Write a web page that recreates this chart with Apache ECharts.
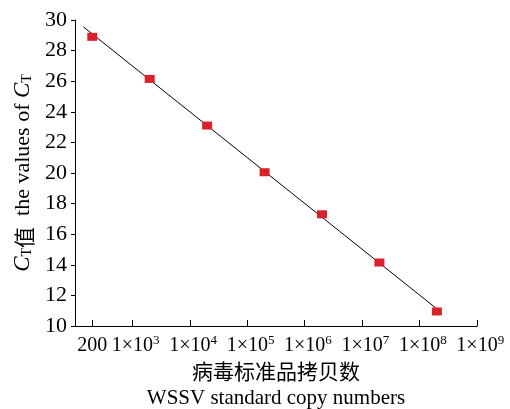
<!DOCTYPE html>
<html><head><meta charset="utf-8">
<script src="https://cdn.jsdelivr.net/npm/echarts@6/dist/echarts.min.js"></script>
<style>html,body{margin:0;padding:0;background:#fff}#c{width:510px;height:409px}</style>
</head><body><div id="c"></div>
<script>
// data
var copies = [200, 2e3, 2e4, 2e5, 2e6, 2e7, 2e8];
var ctValues = [28.9, 26.15, 23.1, 20.05, 17.3, 14.15, 10.95];
// fitted standard curve endpoints
var fitX = [140, 2e8];
var fitY = [29.55, 11.12];
// x tick values and labels
var xTickValues = [200, 1e3, 1e4, 1e5, 1e6, 1e7, 1e8, 1e9];
var xTickBase = ['200', '1×10', '1×10', '1×10', '1×10', '1×10', '1×10', '1×10'];
var xTickSup = ['', '3', '4', '5', '6', '7', '8', '9'];
var yTicks = [10, 12, 14, 16, 18, 20, 22, 24, 26, 28, 30];

var serif = '"Liberation Serif","Times New Roman","Noto Sans CJK SC",serif';
var chart = echarts.init(document.getElementById('c'));
chart.setOption({
  animation: false,
  grid: {left: 75, right: 33, top: 20, bottom: 83, containLabel: false, outerBoundsMode: 'none'},
  xAxis: {
    type: 'log', logBase: 10, min: 100, max: 1e9,
    axisLine: {show: true, lineStyle: {color: '#000', width: 1}},
    axisTick: {show: true, inside: true, length: 6, lineStyle: {color: '#000'}, customValues: xTickValues},
    minorTick: {show: false},
    splitLine: {show: false},
    axisLabel: {
      customValues: xTickValues, margin: 8, color: '#000', fontFamily: serif, fontSize: 20,
      hideOverlap: false, showMinLabel: true, showMaxLabel: true,
      formatter: function (v) {
        var i = xTickValues.indexOf(v);
        if (i < 0) return '';
        return xTickSup[i] ? '{b|' + xTickBase[i] + '}{s|' + xTickSup[i] + '}' : '{b|' + xTickBase[i] + '}';
      },
      rich: {
        b: {fontFamily: serif, fontSize: 20, color: '#000', verticalAlign: 'bottom', lineHeight: 22, align: 'left'},
        s: {fontFamily: serif, fontSize: 13, color: '#000', verticalAlign: 'top', lineHeight: 22, width: 0, align: 'left'}
      }
    },
    name: '{cn|病毒标准品拷贝数}\n{en|WSSV standard copy numbers}',
    nameLocation: 'middle', nameGap: 32,
    nameTextStyle: {
      rich: {
        cn: {fontFamily: '"Noto Sans CJK SC",serif', fontSize: 21, color: '#000', lineHeight: 27},
        en: {fontFamily: serif, fontSize: 21, color: '#000', lineHeight: 27}
      }
    }
  },
  yAxis: {
    type: 'value', min: 10, max: 30, interval: 2,
    axisLine: {show: true, lineStyle: {color: '#000', width: 1}},
    axisTick: {show: true, inside: false, length: 4, lineStyle: {color: '#000'}},
    splitLine: {show: false},
    axisLabel: {margin: 8, color: '#000', fontFamily: serif, fontSize: 22,
      formatter: function (v) { return yTicks.indexOf(v) >= 0 ? String(v) : ''; }},
    name: '{i|C}{s|T}{cn|值}{en|  the values of }{i|C}{s|T}',
    nameLocation: 'middle', nameGap: 32, nameRotate: 90,
    nameTextStyle: {
      rich: {
        i: {fontFamily: serif, fontStyle: 'italic', fontSize: 23, color: '#000', lineHeight: 26, verticalAlign: 'bottom'},
        s: {fontFamily: serif, fontSize: 14, color: '#000', lineHeight: 24, verticalAlign: 'bottom'},
        cn: {fontFamily: '"Noto Sans CJK SC",serif', fontSize: 21, color: '#000', lineHeight: 26, verticalAlign: 'bottom'},
        en: {fontFamily: serif, fontSize: 22, color: '#000', lineHeight: 26, verticalAlign: 'bottom'}
      }
    }
  },
  series: [
    {
      type: 'line', data: fitX.map(function (x, i) { return [x, fitY[i]]; }),
      symbol: 'none', lineStyle: {color: '#000', width: 1}, z: 2, silent: true
    },
    {
      type: 'scatter', data: copies.map(function (x, i) { return [x, ctValues[i]]; }),
      symbol: 'rect', symbolSize: [10, 8], itemStyle: {color: '#d9212b', opacity: 1}, z: 3
    }
  ]
});
</script></body></html>
